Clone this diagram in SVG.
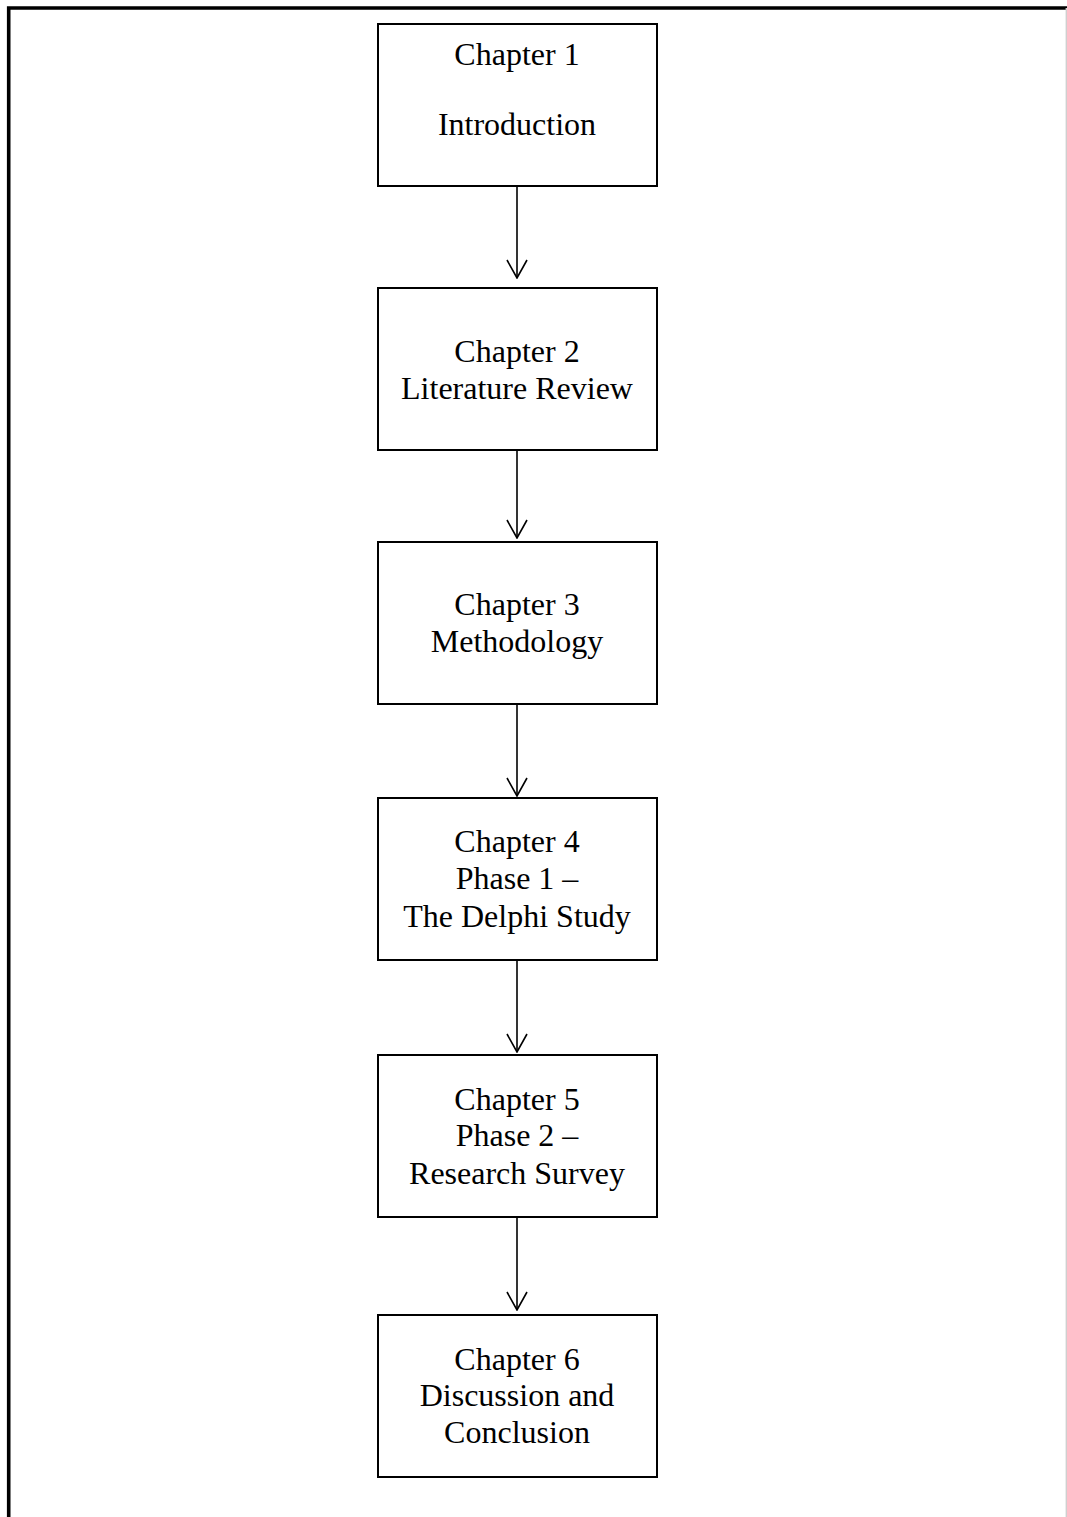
<svg xmlns="http://www.w3.org/2000/svg" width="1067" height="1517" viewBox="0 0 1067 1517">
<style>
.box{fill:#fff;stroke:#000;stroke-width:2}
.t{font-family:"Liberation Serif","Times New Roman",serif;font-size:32px;fill:#000;text-anchor:middle}
.c{stroke:#000;stroke-width:1.6;fill:none}
</style>
<defs>
<marker id="ah" viewBox="0 0 20 24" refX="19" refY="12" markerWidth="20" markerHeight="24" markerUnits="userSpaceOnUse" orient="auto">
<path d="M1,2 L19,12 L1,22" fill="none" stroke="#000" stroke-width="1.6"/>
</marker>
</defs>
<rect x="0" y="0" width="1067" height="1517" fill="#fff"/>
<g id="frame">
<path d="M8.7,1517 V8 H1067" fill="none" stroke="#000" stroke-width="3.6"/>
<line x1="1066.3" y1="8" x2="1066.3" y2="1517" stroke="#cfcfcf" stroke-width="1.4"/>
</g>
<g id="connectors">
<line class="c" x1="517" y1="186" x2="517" y2="278" marker-end="url(#ah)"/>
<line class="c" x1="517" y1="446" x2="517" y2="538" marker-end="url(#ah)"/>
<line class="c" x1="517" y1="704" x2="517" y2="796" marker-end="url(#ah)"/>
<line class="c" x1="517" y1="960" x2="517" y2="1052" marker-end="url(#ah)"/>
<line class="c" x1="517" y1="1217" x2="517" y2="1310" marker-end="url(#ah)"/>
</g>
<g id="node1">
<rect class="box" x="378" y="24" width="279" height="162"/>
<text class="t" x="517" y="65">Chapter 1</text>
<text class="t" x="517" y="135">Introduction</text>
</g>
<g id="node2">
<rect class="box" x="378" y="288" width="279" height="162"/>
<text class="t" x="517" y="362">Chapter 2</text>
<text class="t" x="517" y="399">Literature Review</text>
</g>
<g id="node3">
<rect class="box" x="378" y="542" width="279" height="162"/>
<text class="t" x="517" y="615">Chapter 3</text>
<text class="t" x="517" y="652">Methodology</text>
</g>
<g id="node4">
<rect class="box" x="378" y="798" width="279" height="162"/>
<text class="t" x="517" y="852">Chapter 4</text>
<text class="t" x="517" y="889">Phase 1 –</text>
<text class="t" x="517" y="927">The Delphi Study</text>
</g>
<g id="node5">
<rect class="box" x="378" y="1055" width="279" height="162"/>
<text class="t" x="517" y="1110">Chapter 5</text>
<text class="t" x="517" y="1146">Phase 2 –</text>
<text class="t" x="517" y="1184">Research Survey</text>
</g>
<g id="node6">
<rect class="box" x="378" y="1315" width="279" height="162"/>
<text class="t" x="517" y="1370">Chapter 6</text>
<text class="t" x="517" y="1406">Discussion and</text>
<text class="t" x="517" y="1443">Conclusion</text>
</g>
</svg>
